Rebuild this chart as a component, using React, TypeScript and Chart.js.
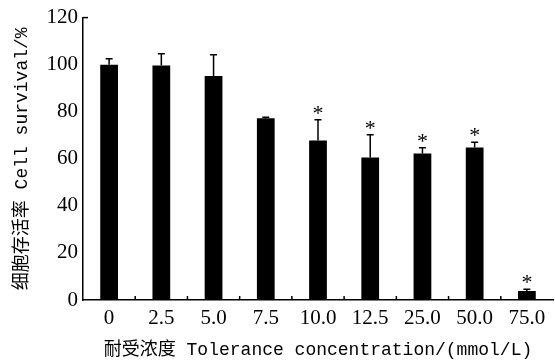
import React, { useEffect, useRef } from "react";
import { Chart, registerables } from "chart.js";

Chart.register(...registerables);

const categories = ["0", "2.5", "5.0", "7.5", "10.0", "12.5", "25.0", "50.0", "75.0"];
const survival = [100, 99.6, 95.2, 77.2, 67.8, 60.6, 62.2, 64.8, 3.8];
const errors = [2.5, 5.0, 9.0, 0.5, 8.8, 9.6, 2.5, 2.2, 0.8];
const significant = [false, false, false, false, true, true, true, true, true];
const yMin = 0;
const yMax = 120;
const yStep = 20;
const yTitle = "细胞存活率 Cell survival/%";
const xTitle = "耐受浓度 Tolerance concentration/(mmol/L)";

const titleFont = "'Liberation Mono', 'Noto Sans CJK SC', monospace";
const tickFont = "'Liberation Serif', 'Times New Roman', serif";

const decorPlugin = {
  id: "decor",
  afterDatasetsDraw(chart: any) {
    const ctx = chart.ctx;
    const xs = chart.scales.x;
    const ys = chart.scales.y;
    const meta = chart.getDatasetMeta(0);
    ctx.save();
    ctx.strokeStyle = "#000";
    ctx.fillStyle = "#000";
    ctx.lineWidth = 1.5;
    meta.data.forEach((bar: any, i: number) => {
      const cx = bar.x;
      const top = ys.getPixelForValue(survival[i]);
      const et = ys.getPixelForValue(survival[i] + errors[i]);
      ctx.beginPath();
      ctx.moveTo(cx, top);
      ctx.lineTo(cx, et);
      ctx.moveTo(cx - 3.5, et);
      ctx.lineTo(cx + 3.5, et);
      ctx.stroke();
      if (significant[i]) {
        ctx.font = "22px " + tickFont;
        ctx.textAlign = "center";
        ctx.textBaseline = "alphabetic";
        const m = ctx.measureText("*");
        const target = et - 6;
        ctx.fillText("*", cx, target - m.actualBoundingBoxDescent);
      }
    });
    // inward x ticks between categories
    const bottom = chart.chartArea.bottom;
    for (let i = 1; i < categories.length; i++) {
      const bx = (xs.getPixelForTick(i - 1) + xs.getPixelForTick(i)) / 2;
      ctx.beginPath();
      ctx.moveTo(bx, bottom);
      ctx.lineTo(bx, bottom - 4);
      ctx.stroke();
    }
    // top y tick
    const left = chart.chartArea.left;
    const yt = ys.getPixelForValue(yMax);
    ctx.beginPath();
    ctx.moveTo(left, yt);
    ctx.lineTo(left + 5, yt);
    ctx.stroke();
    ctx.restore();
  },
};

export default function App() {
  const ref = useRef<HTMLCanvasElement | null>(null);
  useEffect(() => {
    if (!ref.current) return;
    const chart = new Chart(ref.current, {
      type: "bar",
      data: {
        labels: categories,
        datasets: [
          {
            data: survival,
            backgroundColor: "#000",
            borderWidth: 0,
            barPercentage: 0.34,
            categoryPercentage: 1,
          },
        ],
      },
      options: {
        animation: false,
        responsive: false,
        layout: { padding: { top: 15, right: 2, left: 0, bottom: 0 } },
        plugins: { legend: { display: false }, tooltip: { enabled: false } },
        scales: {
          x: {
            grid: { display: false, drawTicks: false },
            border: { display: true, color: "#000", width: 1.5 },
            ticks: { color: "#000", font: { family: tickFont, size: 21 }, padding: 6, maxRotation: 0, autoSkip: false },
            title: {
              display: true,
              text: xTitle,
              color: "#000",
              font: { family: titleFont, size: 18 },
              padding: { top: 0, bottom: 0 },
            },
            afterFit: (s: any) => {
              s.height = 61;
            },
          },
          y: {
            min: yMin,
            max: yMax,
            grid: { display: false, drawTicks: false },
            border: { display: true, color: "#000", width: 1.5 },
            ticks: { stepSize: yStep, color: "#000", font: { family: tickFont, size: 21 }, padding: 5 },
            title: {
              display: true,
              text: yTitle,
              color: "#000",
              font: { family: titleFont, size: 18 },
              padding: { top: 11, bottom: 0 },
            },
            afterFit: (s: any) => {
              s.width = 83;
            },
          },
        },
      },
      plugins: [decorPlugin],
    });
    return () => chart.destroy();
  }, []);
  return (
    <div style={{ position: "fixed", left: 0, top: 0, width: 555, height: 361, background: "#fff" }}>
      <canvas ref={ref} width={555} height={361} style={{ display: "block" }} />
    </div>
  );
}
